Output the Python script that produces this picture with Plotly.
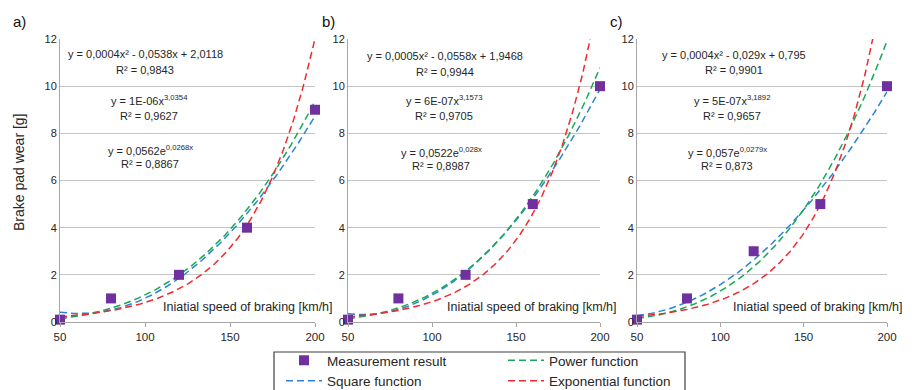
import numpy as np
import plotly.graph_objects as go

# ---------------- data ----------------
speed = [50, 80, 120, 160, 200]
wear_a = [0.1, 1, 2, 4, 9]
wear_b = [0.1, 1, 2, 5, 10]
wear_c = [0.1, 1, 3, 5, 10]
panel_labels = ["a)", "b)", "c)"]
x_ticks = [50, 100, 150, 200]
y_ticks = [0, 2, 4, 6, 8, 10, 12]

eq_square = ["y = 0,0004x² - 0,0538x + 2,0118", "y = 0,0005x² - 0,0558x + 1,9468", "y = 0,0004x² - 0,029x + 0,795"]
r2_square = ["R² = 0,9843", "R² = 0,9944", "R² = 0,9901"]
eq_power = ["y = 1E-06x<sup>3,0354</sup>", "y = 6E-07x<sup>3,1573</sup>", "y = 5E-07x<sup>3,1892</sup>"]
r2_power = ["R² = 0,9627", "R² = 0,9705", "R² = 0,9657"]
eq_exp = ["y = 0,0562e<sup>0,0268x</sup>", "y = 0,0522e<sup>0,028x</sup>", "y = 0,057e<sup>0,0279x</sup>"]
r2_exp = ["R² = 0,8867", "R² = 0,8987", "R² = 0,873"]

x_title = "Iniatial speed of braking [km/h]"
y_title = "Brake pad wear [g]"
names = ["Measurement result", "Square function", "Power function", "Exponential function"]

# ---------------- styling ----------------
# page body has an 8px default margin: figure is sized so the page is 917x390
OFF = 8
W, H = 917 - OFF, 390 - OFF
def px(x):
    return (x - OFF) / W
def py(y):
    return 1 - (y - OFF) / H

PURPLE = "#7030A0"
BLUE = "#2b84d2"
GREEN = "#16a955"
RED = "#ee2a2e"
FONT = "Liberation Sans"
TXT = "#262626"

x_domains = [(60, 315), (348, 600), (637, 887)]
y_dom = [py(322), py(39)]

fig = go.Figure()

series = [wear_a, wear_b, wear_c]
for i, wear in enumerate(series):
    xa = "x" if i == 0 else f"x{i+1}"
    ya = "y" if i == 0 else f"y{i+1}"
    x = np.array(speed, dtype=float)
    y = np.array(wear, dtype=float)
    xs = np.linspace(50, 200, 301)
    # Excel-style trendlines fitted to the measurements
    q = np.polyfit(x, y, 2)
    y_sq = np.polyval(q, xs)
    pb, pa = np.polyfit(np.log(x), np.log(y), 1)
    y_pw = np.exp(pa) * xs ** pb
    eb, ea = np.polyfit(x, np.log(y), 1)
    y_ex = np.exp(ea) * np.exp(eb * xs)
    show = i == 0
    fig.add_trace(go.Scatter(x=xs, y=y_sq, mode="lines", name=names[1], xaxis=xa, yaxis=ya,
                             line=dict(color=BLUE, width=1.5, dash="7px,4px"),
                             showlegend=show, legend="legend", legendrank=2))
    fig.add_trace(go.Scatter(x=xs, y=y_pw, mode="lines", name=names[2], xaxis=xa, yaxis=ya,
                             line=dict(color=GREEN, width=1.5, dash="7px,4px"),
                             showlegend=show, legend="legend2", legendrank=1))
    fig.add_trace(go.Scatter(x=xs, y=y_ex, mode="lines", name=names[3], xaxis=xa, yaxis=ya,
                             line=dict(color=RED, width=1.5, dash="7px,4px"),
                             showlegend=show, legend="legend2", legendrank=2))
    fig.add_trace(go.Scatter(x=speed, y=wear, mode="markers", name=names[0], xaxis=xa, yaxis=ya,
                             marker=dict(symbol="square", size=10, color=PURPLE),
                             cliponaxis=False, showlegend=show, legend="legend", legendrank=1))

axis_common_x = dict(range=[50, 200], tickvals=x_ticks, showgrid=False, zeroline=False,
                     showline=True, linecolor="#a6a6a6", linewidth=1, ticks="outside",
                     ticklen=4, tickcolor="#a6a6a6", automargin=False,
                     tickfont=dict(family=FONT, size=11.5, color=TXT))
axis_common_y = dict(range=[0, 12], tickvals=y_ticks, showgrid=True, gridcolor="#c4c4c4",
                     gridwidth=1, zeroline=False, showline=True, linecolor="#a6a6a6",
                     linewidth=1, ticks="", domain=y_dom, automargin=False,
                     tickfont=dict(family=FONT, size=11, color=TXT))

layout = dict(width=W, height=H, margin=dict(l=0, r=0, t=0, b=0, pad=0, autoexpand=False),
              plot_bgcolor="white", paper_bgcolor="white",
              font=dict(family=FONT, color=TXT))
for i, (l, r) in enumerate(x_domains):
    sx = "" if i == 0 else str(i + 1)
    layout[f"xaxis{sx}"] = dict(axis_common_x, domain=[px(l), px(r)], anchor=f"y{sx}")
    layout[f"yaxis{sx}"] = dict(axis_common_y, anchor=f"x{sx}")

legend_common = dict(yanchor="top", xanchor="left", xref="container", yref="container",
                     orientation="v", bgcolor="rgba(0,0,0,0)", borderwidth=0,
                     font=dict(family=FONT, size=13.5, color=TXT), tracegroupgap=0,
                     traceorder="normal", itemwidth=36)
layout["legend"] = dict(legend_common, x=px(281), y=py(345))
layout["legend2"] = dict(legend_common, x=px(503), y=py(345))
fig.update_layout(**layout)

# legend frame
fig.add_shape(type="rect", xref="paper", yref="paper", x0=px(274), x1=px(685),
              y0=py(400), y1=py(352), line=dict(color="#404040", width=1.2),
              fillcolor="rgba(0,0,0,0)", layer="below")

ann = []
def note(text, x, y, size, color=TXT, angle=0):
    ann.append(dict(text=text, x=px(x), y=py(y), xref="paper", yref="paper",
                    xanchor="center", yanchor="middle", textangle=angle,
                    showarrow=False, font=dict(family=FONT, size=size, color=color)))

# panel labels
for lab, xp in zip(panel_labels, [19, 328, 616]):
    note(lab, xp, 22, 15, "#111")
# y title
note(y_title, 19, 172, 14, angle=-90)
# x titles (inside plot)
for xc in [248, 532, 818]:
    note(x_title, xc, 307, 12.5)
# equations
eq_pos = [
    [(145, 54), (145, 70), (149, 100), (149, 116), (150, 150), (150, 164)],
    [(445, 56), (445, 72), (444, 100), (444, 116), (441, 152), (441, 166)],
    [(734, 55), (734, 70), (732, 100), (732, 116), (727, 152), (727, 166)],
]
for i in range(3):
    texts = [eq_square[i], r2_square[i], eq_power[i], r2_power[i], eq_exp[i], r2_exp[i]]
    for t, (xx, yy) in zip(texts, eq_pos[i]):
        note(t, xx, yy, 11)
fig.update_layout(annotations=ann)

fig.write_html("out.html")
